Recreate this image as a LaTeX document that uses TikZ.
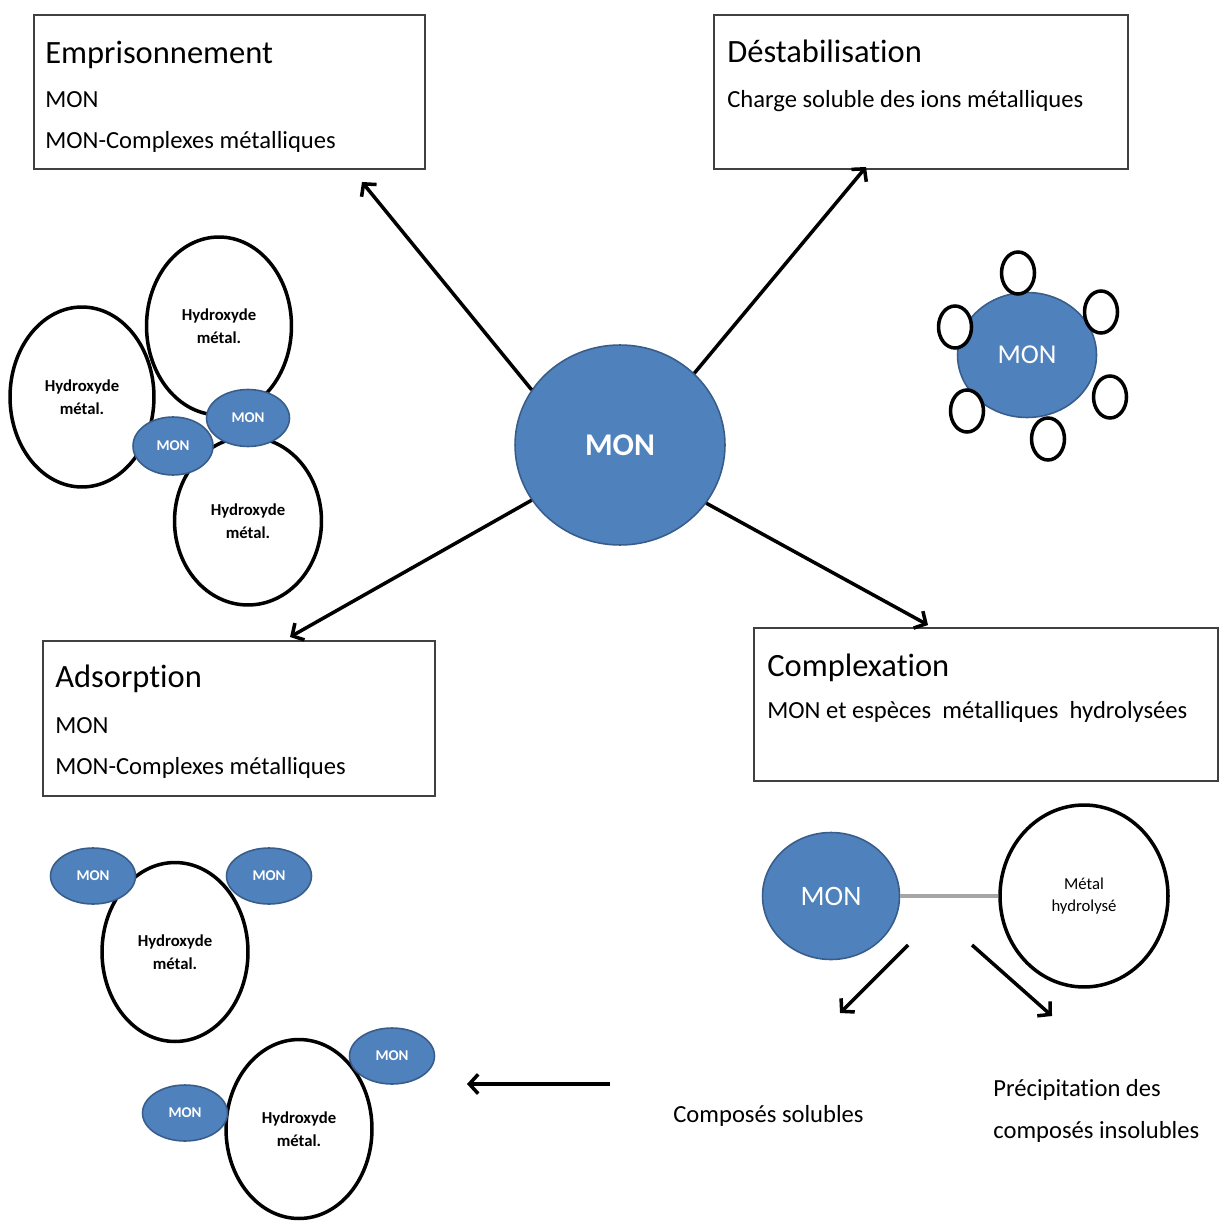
\documentclass[tikz,border=0pt]{standalone}
\usepackage{fontspec}
\setmainfont{Carlito}[RawFeature={-liga}]
\usetikzlibrary{arrows.meta, shapes.geometric, positioning}
\definecolor{monblue}{HTML}{4F81BD}
\definecolor{monedge}{HTML}{385D8A}

\begin{document}
\begin{tikzpicture}
[x=0.02cm, y=-0.02cm,
  box/.style={draw=black!75, line width=1pt, anchor=north west, inner sep=0},
  boxtitle/.style={anchor=base west, inner sep=0, font=\fontsize{18.5}{22}\selectfont},
  boxline/.style={anchor=base west, inner sep=0, font=\fontsize{14}{17}\selectfont},
  mon/.style={ellipse, draw=monedge, line width=0.9pt, fill=monblue, text=white, inner sep=0},
  minimon/.style={mon, minimum width=1.7cm, minimum height=1.12cm,
    font=\bfseries\fontsize{8.5}{10}\selectfont},
  hydro/.style={ellipse, draw=black, line width=2pt, fill=white, inner sep=0,
    align=center, font=\bfseries\fontsize{9.5}{13}\selectfont,
    minimum width=2.92cm, minimum height=3.58cm},
  ring/.style={ellipse, draw=black, line width=2pt, fill=white, inner sep=0,
    minimum width=0.66cm, minimum height=0.84cm},
  link/.style={->, line width=2pt},
  >={Straight Barb[length=5pt, width=11pt, line width=2pt]}]

\useasboundingbox (0,0) rectangle (1219,1222);

% boxes
\node[box, minimum width=7.82cm, minimum height=3.08cm] (empbox) at (33,14) {};
\node[boxtitle] (emptitle) at (45,64) {Emprisonnement};
\node[boxline] (empline1) at (45,108) {MON};
\node[boxline] (empline2) at (45,149) {MON-Complexes métalliques};

\node[box, minimum width=8.28cm, minimum height=3.08cm] (destbox) at (713,14) {};
\node[boxtitle] (desttitle) at (727,63) {Déstabilisation};
\node[boxline] (destline) at (727,108) {Charge soluble des ions métalliques};

\node[box, minimum width=7.84cm, minimum height=3.1cm] (adsbox) at (42,640) {};
\node[boxtitle] (adstitle) at (55,687) {Adsorption};
\node[boxline] (adsline1) at (55,733) {MON};
\node[boxline] (adsline2) at (55,774) {MON-Complexes métalliques};

\node[box, minimum width=9.28cm, minimum height=3.06cm] (cplbox) at (753,627) {};
\node[boxtitle] (cpltitle) at (767,676) {Complexation};
\node[boxline] (cplline) at (767,718) {MON et espèces\ \ métalliques\ \ hydrolysées};

% centre
\node[mon, minimum width=4.2cm, minimum height=4cm, font=\bfseries\fontsize{18}{20}\selectfont]
  (mon) at (620,445) {MON};

\coordinate (tipemp) at (362,182);
\coordinate (tipdest) at (866,167);
\coordinate (tipads) at (290,637);
\coordinate (tipcpl) at (928,625);
\draw[link] (mon.148) -- (tipemp);
\draw[link] (mon.44) -- (tipdest);
\draw[link] (mon.212) -- (tipads);
\draw[link] (mon.-34) -- (tipcpl);

% emprisonnement
\node[hydro, minimum width=2.88cm, minimum height=3.6cm] (hydA) at (82,397) {Hydroxyde\\métal.};
\node[hydro, minimum width=2.9cm, minimum height=3.56cm] (hydB) at (219,326) {Hydroxyde\\métal.};
\node[hydro, minimum width=2.94cm, minimum height=3.36cm] (hydC) at (248,521) {Hydroxyde\\métal.};
\node[minimon, minimum width=1.6cm, minimum height=1.16cm] (pmonA) at (173,446) {MON};
\node[minimon, minimum width=1.66cm, minimum height=1.14cm] (pmonB) at (248,418) {MON};

% destabilisation
\node[mon, minimum width=2.78cm, minimum height=2.5cm, font=\fontsize{15.5}{18}\selectfont]
  (dmon) at (1027,355) {MON};
\node[ring] (ring1) at (1018,273) {};
\node[ring] (ring2) at (1101,312) {};
\node[ring] (ring3) at (955,327) {};
\node[ring] (ring4) at (967,411) {};
\node[ring] (ring5) at (1110,397) {};
\node[ring] (ring6) at (1048,439) {};

% adsorption
\node[hydro] (hydD) at (175,952) {Hydroxyde\\métal.};
\node[hydro] (hydE) at (299,1129) {Hydroxyde\\métal.};
\node[minimon] (amon1) at (93,876) {MON};
\node[minimon] (amon2) at (269,876) {MON};
\node[minimon] (amon3) at (392,1056) {MON};
\node[minimon] (amon4) at (185,1113) {MON};

% complexation
\node[mon, minimum width=2.74cm, minimum height=2.54cm, font=\fontsize{16}{18}\selectfont]
  (cmon) at (831,896) {MON};
\node[hydro, minimum width=3.36cm, minimum height=3.64cm, font=\fontsize{9.5}{13}\selectfont]
  (metal) at (1084,896) {Métal\\hydrolysé};
\draw[line width=2.4pt, black!35] (cmon) -- (metal);

\coordinate (solstart) at (908,945);
\coordinate (soltip) at (840,1013);
\coordinate (insstart) at (972,945);
\coordinate (instip) at (1052,1016);
\draw[link] (solstart) -- (soltip);
\draw[link] (insstart) -- (instip);

\node[boxline] (soluble) at (673,1122) {Composés solubles};
\node[boxline] (precip1) at (993,1096) {Précipitation des};
\node[boxline] (precip2) at (993,1138) {composés insolubles};

\coordinate (backstart) at (610,1084);
\coordinate (backtip) at (467,1084);
\draw[link] (backstart) -- (backtip);

\end{tikzpicture}
\end{document}
